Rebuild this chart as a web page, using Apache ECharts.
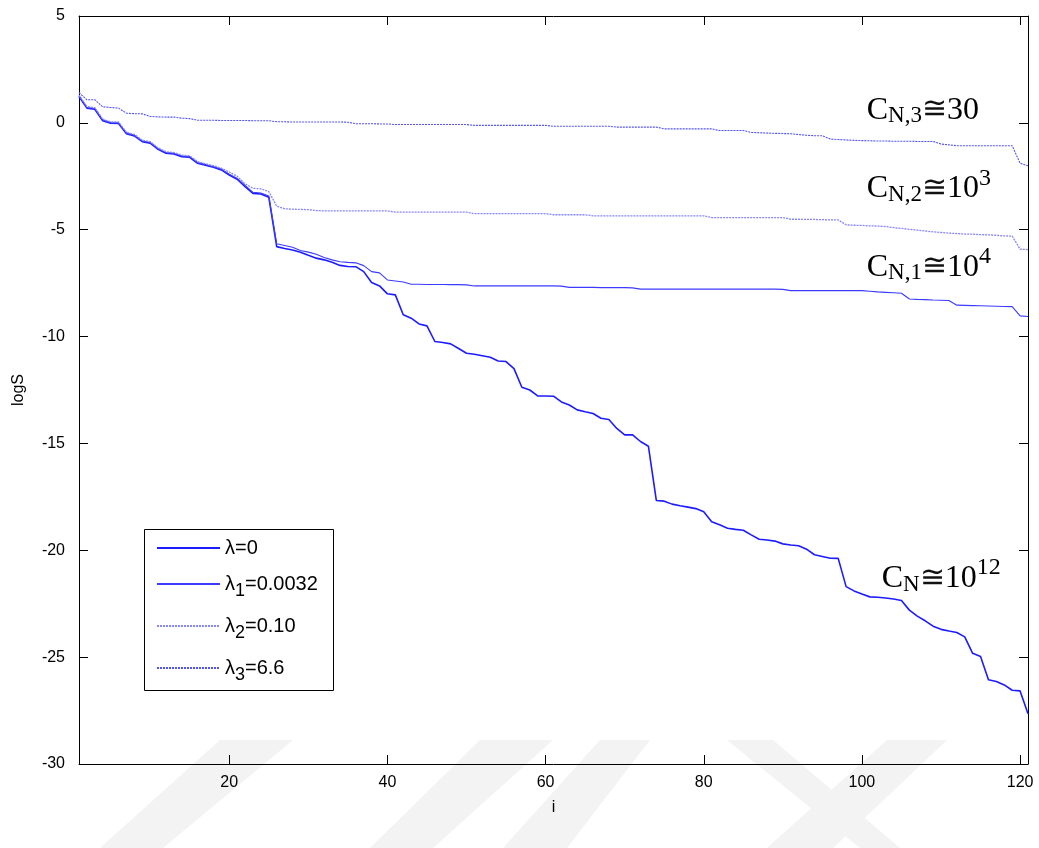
<!DOCTYPE html>
<html>
<head>
<meta charset="utf-8">
<script src="https://cdn.jsdelivr.net/npm/echarts@6/dist/echarts.min.js"></script>
<style>
  html, body { margin: 0; padding: 0; background: #fff; }
  #chart { width: 1039px; height: 848px; }
</style>
</head>
<body>
<div id="chart"></div>
<script>
// logS of each index i (1..121)
const lambda0 = [
  1.23, 0.69, 0.64, 0.10, -0.02, -0.03, -0.51, -0.61, -0.88, -0.95,
  -1.24, -1.42, -1.46, -1.58, -1.61, -1.89, -1.98, -2.08, -2.20, -2.44,
  -2.64, -2.98, -3.30, -3.33, -3.48, -5.79, -5.88, -5.95, -6.05, -6.20,
  -6.33, -6.41, -6.52, -6.67, -6.72, -6.73, -6.96, -7.47, -7.63, -8.00,
  -8.05, -8.98, -9.14, -9.41, -9.50, -10.23, -10.28, -10.34, -10.56, -10.78,
  -10.83, -10.90, -10.97, -11.14, -11.17, -11.50, -12.37, -12.50, -12.78, -12.78,
  -12.79, -13.06, -13.20, -13.43, -13.52, -13.60, -13.82, -13.88, -14.30, -14.60,
  -14.60, -14.91, -15.13, -17.67, -17.70, -17.84, -17.92, -17.98, -18.05, -18.20,
  -18.66, -18.81, -18.97, -19.02, -19.06, -19.28, -19.48, -19.52, -19.57, -19.70,
  -19.75, -19.79, -19.95, -20.21, -20.29, -20.37, -20.38, -21.70, -21.90, -22.05,
  -22.18, -22.20, -22.23, -22.28, -22.35, -22.80, -23.08, -23.30, -23.55, -23.70,
  -23.78, -23.85, -24.05, -24.82, -24.97, -26.06, -26.14, -26.30, -26.55, -26.58,
  -27.65
];
const lambda1 = [
  1.26, 0.72, 0.67, 0.13, 0.01, 0.00, -0.48, -0.58, -0.85, -0.92,
  -1.21, -1.39, -1.43, -1.55, -1.58, -1.86, -1.95, -2.05, -2.17, -2.40,
  -2.60, -2.93, -3.25, -3.28, -3.42, -5.66, -5.74, -5.82, -5.97, -6.05,
  -6.15, -6.30, -6.41, -6.50, -6.53, -6.55, -6.68, -6.96, -7.02, -7.35,
  -7.40, -7.45, -7.55, -7.55, -7.56, -7.56, -7.56, -7.57, -7.57, -7.58,
  -7.63, -7.63, -7.63, -7.63, -7.63, -7.63, -7.63, -7.63, -7.63, -7.63,
  -7.63, -7.64, -7.70, -7.70, -7.70, -7.70, -7.71, -7.71, -7.71, -7.71,
  -7.72, -7.78, -7.78, -7.78, -7.78, -7.78, -7.78, -7.78, -7.78, -7.78,
  -7.78, -7.78, -7.78, -7.78, -7.78, -7.78, -7.78, -7.78, -7.78, -7.79,
  -7.85, -7.85, -7.85, -7.85, -7.85, -7.85, -7.85, -7.85, -7.85, -7.85,
  -7.88, -7.91, -7.93, -7.95, -7.97, -8.24, -8.26, -8.27, -8.29, -8.30,
  -8.31, -8.53, -8.54, -8.55, -8.56, -8.57, -8.58, -8.59, -8.60, -9.03,
  -9.06
];
const lambda2 = [
  1.30, 0.76, 0.71, 0.17, 0.05, 0.04, -0.44, -0.54, -0.81, -0.88,
  -1.17, -1.35, -1.39, -1.51, -1.54, -1.82, -1.91, -2.00, -2.12, -2.30,
  -2.50, -2.85, -3.06, -3.09, -3.21, -3.90, -4.02, -4.04, -4.05, -4.06,
  -4.10, -4.12, -4.12, -4.12, -4.12, -4.12, -4.12, -4.12, -4.12, -4.12,
  -4.18, -4.18, -4.18, -4.18, -4.18, -4.18, -4.18, -4.18, -4.18, -4.18,
  -4.25, -4.25, -4.25, -4.25, -4.25, -4.25, -4.25, -4.25, -4.25, -4.25,
  -4.30, -4.30, -4.30, -4.30, -4.30, -4.35, -4.35, -4.35, -4.35, -4.35,
  -4.35, -4.35, -4.35, -4.35, -4.35, -4.35, -4.35, -4.35, -4.35, -4.35,
  -4.43, -4.43, -4.43, -4.43, -4.43, -4.43, -4.43, -4.43, -4.43, -4.43,
  -4.51, -4.51, -4.52, -4.52, -4.53, -4.54, -4.54, -4.77, -4.79, -4.80,
  -4.82, -4.83, -4.85, -4.90, -4.94, -4.98, -5.02, -5.06, -5.10, -5.13,
  -5.16, -5.18, -5.20, -5.21, -5.23, -5.24, -5.26, -5.29, -5.30, -5.91,
  -5.93
];
const lambda3 = [
  1.42, 1.08, 1.08, 0.75, 0.72, 0.69, 0.45, 0.43, 0.42, 0.30,
  0.28, 0.27, 0.27, 0.22, 0.20, 0.12, 0.12, 0.12, 0.11, 0.11,
  0.11, 0.11, 0.10, 0.10, 0.10, 0.05, 0.05, 0.04, 0.04, 0.04,
  0.04, 0.04, 0.04, 0.04, 0.03, -0.04, -0.04, -0.04, -0.05, -0.05,
  -0.08, -0.08, -0.08, -0.08, -0.08, -0.08, -0.08, -0.08, -0.08, -0.08,
  -0.12, -0.12, -0.12, -0.12, -0.12, -0.12, -0.12, -0.12, -0.12, -0.12,
  -0.16, -0.16, -0.16, -0.16, -0.16, -0.16, -0.16, -0.16, -0.20, -0.20,
  -0.20, -0.20, -0.20, -0.20, -0.28, -0.28, -0.28, -0.28, -0.28, -0.28,
  -0.28, -0.36, -0.36, -0.36, -0.36, -0.45, -0.46, -0.48, -0.49, -0.50,
  -0.51, -0.55, -0.58, -0.60, -0.60, -0.76, -0.78, -0.80, -0.82, -0.83,
  -0.84, -0.85, -0.85, -0.86, -0.86, -0.86, -0.87, -0.87, -0.87, -0.99,
  -1.03, -1.07, -1.07, -1.07, -1.07, -1.07, -1.07, -1.07, -1.07, -1.89,
  -2.01
];
const seriesNames = ['λ=0', 'λ1=0.0032', 'λ2=0.10', 'λ3=6.6'];
const xTicks = [20, 40, 60, 80, 100, 120];
const xMin = 1, xMax = 121;
const yMin = -30, yMax = 5, yStep = 5;

const toPairs = (arr) => arr.map((v, k) => [k + 1, v]);

const sans = 'Arial, "Liberation Sans", sans-serif';
const serif = '"Times New Roman", "Liberation Serif", "DejaVu Serif", serif';

const annoRich = {
  c: { fontSize: 32, fontFamily: serif, fill: '#000', color: '#000' },
  eq: { fontSize: 30, fontFamily: serif, fill: '#111', color: '#111' },
  sub: { fontSize: 23, fontFamily: serif, fill: '#000', color: '#000', padding: [12, 0, 0, 0] },
  sup: { fontSize: 24, fontFamily: serif, fill: '#000', color: '#000', padding: [0, 0, 21, 0] }
};
const anno = (x, y, text) => ({
  type: 'text', x, y, z: 10,
  style: { text, rich: annoRich, align: 'left', verticalAlign: 'middle', textVerticalAlign: 'middle' }
});

const stripe = (pts) => ({
  type: 'polygon', z: -1, silent: true,
  shape: { points: pts },
  style: { fill: '#f3f3f3' }
});

const chart = echarts.init(document.getElementById('chart'));

const tickStyle = { inside: true, length: 9, lineStyle: { color: '#000', width: 1 } };
const lineAxis = { onZero: false, lineStyle: { color: '#000', width: 1 } };

chart.setOption({
  animation: false,
  backgroundColor: '#fff',
  grid: { left: 79, right: 9, top: 16, bottom: 84, containLabel: false },
  legend: {
    orient: 'vertical',
    left: 156, top: 538,
    itemWidth: 63, itemHeight: 4, itemGap: 16,
    padding: 0,
    itemStyle: { opacity: 0 },
    data: seriesNames,
    formatter: (name) => {
      const m = name.match(/^λ(\d?)=(.*)$/);
      return m[1] ? `{m|λ}{s|${m[1]}}{m|=${m[2]}}` : `{m|${name}}`;
    },
    textStyle: {
      color: '#000', fontFamily: sans, fontSize: 20,
      rich: {
        m: { fontSize: 20, fontFamily: sans, color: '#000', lineHeight: 23 },
        s: { fontSize: 18, fontFamily: sans, color: '#000', padding: [14, 0, 0, 0] }
      }
    }
  },
  xAxis: [
    {
      type: 'value', min: xMin, max: xMax, position: 'bottom',
      axisLine: lineAxis, axisTick: { ...tickStyle, customValues: xTicks },
      axisLabel: { customValues: xTicks, color: '#000', fontFamily: sans, fontSize: 16, margin: 11 },
      splitLine: { show: false },
      name: 'i', nameLocation: 'middle', nameGap: 36,
      nameTextStyle: { color: '#000', fontFamily: sans, fontSize: 16 }
    },
    {
      type: 'value', min: xMin, max: xMax, position: 'top',
      axisLine: lineAxis, axisTick: { ...tickStyle, customValues: xTicks },
      axisLabel: { show: true, customValues: xTicks, formatter: () => '', color: 'rgba(0,0,0,0)' },
      splitLine: { show: false }
    }
  ],
  yAxis: [
    {
      type: 'value', min: yMin, max: yMax, interval: yStep, position: 'left',
      axisLine: lineAxis, axisTick: tickStyle,
      axisLabel: { color: '#000', fontFamily: sans, fontSize: 16, margin: 14 },
      splitLine: { show: false },
      name: 'logS', nameLocation: 'middle', nameGap: 52,
      nameTextStyle: { color: '#000', fontFamily: sans, fontSize: 16 }
    },
    {
      type: 'value', min: yMin, max: yMax, interval: yStep, position: 'right',
      axisLine: lineAxis, axisTick: tickStyle,
      axisLabel: { show: true, formatter: () => '', color: 'rgba(0,0,0,0)' },
      splitLine: { show: false }
    }
  ],
  series: [
    {
      name: seriesNames[0], type: 'line', data: toPairs(lambda0), symbol: 'none',
      color: '#1c1cff', lineStyle: { color: '#1c1cff', width: 1.6 }
    },
    {
      name: seriesNames[1], type: 'line', data: toPairs(lambda1), symbol: 'none',
      color: '#3b3bff', lineStyle: { color: '#3b3bff', width: 1.1 }
    },
    {
      name: seriesNames[2], type: 'line', data: toPairs(lambda2), symbol: 'none',
      color: '#8686ff', lineStyle: { color: '#8686ff', width: 1.3, type: [2, 1] }
    },
    {
      name: seriesNames[3], type: 'line', data: toPairs(lambda3), symbol: 'none',
      color: '#5252ff', lineStyle: { color: '#5252ff', width: 1.1, type: [2, 1] }
    }
  ],
  graphic: [
    stripe([[220, 740], [293, 740], [163, 848], [100, 848]]),
    stripe([[480, 740], [553, 740], [433, 848], [370, 848]]),
    stripe([[600, 740], [650, 740], [567, 848], [503, 848]]),
    stripe([[727, 740], [773, 740], [900, 848], [860, 848]]),
    stripe([[887, 740], [947, 740], [833, 848], [767, 848]]),
    {
      type: 'rect', z: 3,
      shape: { x: 144.5, y: 529.5, width: 189, height: 161 },
      style: { fill: '#fff', stroke: '#000', lineWidth: 1 }
    },
    anno(866.7, 110.4, '{c|C}{sub|N,3}{eq|≅}{c|30}'),
    anno(866.7, 189, '{c|C}{sub|N,2}{eq|≅}{c|10}{sup|3}'),
    anno(866.7, 267.4, '{c|C}{sub|N,1}{eq|≅}{c|10}{sup|4}'),
    anno(881.7, 578.7, '{c|C}{sub|N}{eq|≅}{c|10}{sup|12}')
  ]
});
</script>
</body>
</html>
